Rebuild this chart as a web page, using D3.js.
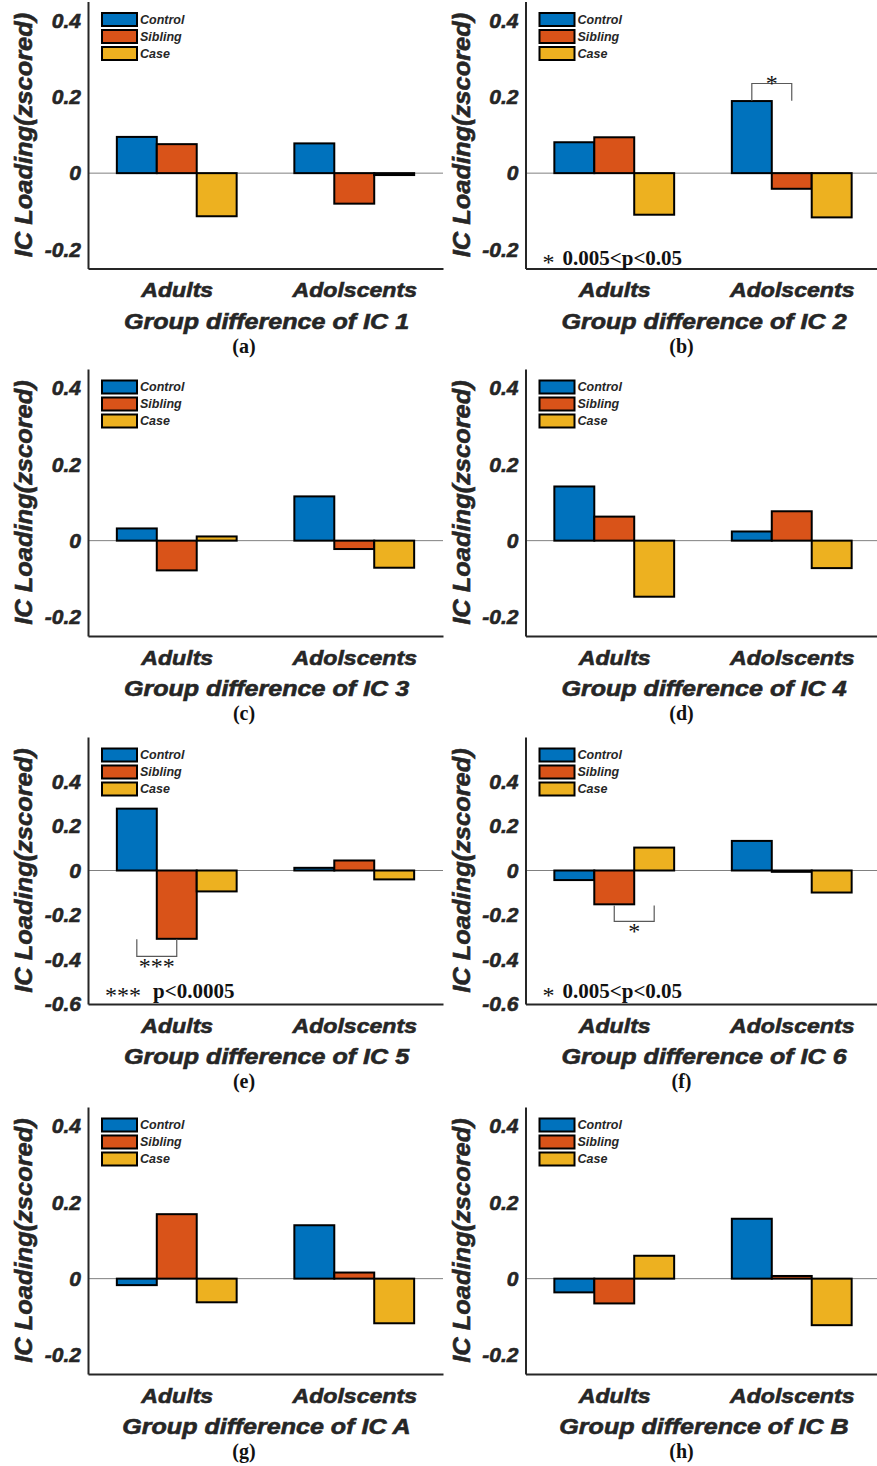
<!DOCTYPE html>
<html>
<head>
<meta charset="utf-8">
<script src="https://cdn.jsdelivr.net/npm/d3@7"></script>
<style>
  body { margin: 0; background: #fff; }
  svg { display: block; }
  .sans { font-family: "Liberation Sans", Arial, sans-serif; font-weight: bold; font-style: italic; fill: #262626; }
  .heavy { stroke: #262626; stroke-width: 0.6px; }
  .serif { font-family: "Liberation Serif", "Times New Roman", serif; fill: #111; }
</style>
</head>
<body>
<div id="chart"></div>
<script>
// ---- data ----
var groups = ["Adults", "Adolscents"];
var series = ["Control", "Sibling", "Case"];
var colors = ["#0072BD", "#D95319", "#EDB120"];
var letters = ["a", "b", "c", "d", "e", "f", "g", "h"];
var titles = ["Group difference of IC 1", "Group difference of IC 2", "Group difference of IC 3",
  "Group difference of IC 4", "Group difference of IC 5", "Group difference of IC 6",
  "Group difference of IC A", "Group difference of IC B"];
// [Adults, Adolscents] per panel
var control = [[0.095, 0.078], [0.081, 0.189], [0.032, 0.116], [0.142, 0.024],
  [0.278, 0.012], [-0.043, 0.133], [-0.017, 0.140], [-0.036, 0.157]];
var sibling = [[0.076, -0.080], [0.094, -0.041], [-0.078, -0.022], [0.063, 0.077],
  [-0.307, 0.045], [-0.152, -0.006], [0.169, 0.016], [-0.065, 0.007]];
var caseVals = [[-0.113, -0.005], [-0.109, -0.116], [0.011, -0.071], [-0.147, -0.072],
  [-0.094, -0.040], [0.103, -0.099], [-0.062, -0.117], [0.060, -0.122]];
var shortDomain = [-0.25, 0.45], tallDomain = [-0.6, 0.6];
var shortTicks = [-0.2, 0, 0.2, 0.4], tallTicks = [-0.6, -0.4, -0.2, 0, 0.2, 0.4];
var tallPanels = ["e", "f"];
// significance brackets: panel, group, bar from, bar to, leg start, leg end, label
var brackets = [
  { panel: "b", group: 1, from: 0, to: 1, y0: 0.19, y1: 0.235, label: "*" },
  { panel: "e", group: 0, from: 0, to: 1, y0: -0.309, y1: -0.386, label: "***" },
  { panel: "f", group: 0, from: 1, to: 2, y0: -0.157, y1: -0.229, label: "*" }
];
var notes = [
  { panel: "b", stars: "*", text: "0.005<p<0.05" },
  { panel: "e", stars: "***", text: "p<0.0005" },
  { panel: "f", stars: "*", text: "0.005<p<0.05" }
];

// ---- layout ----
var W = 877, H = 1466;
var colX = [88, 525.5];
var rowBottom = [268.5, 636, 1004, 1374];
var plotH = 267, plotW = 355, barW = 0.225;

var svg = d3.select("#chart").append("svg")
    .attr("width", W)
    .attr("height", H);
svg.append("rect").attr("width", W).attr("height", H).attr("fill", "#fff");

// stretch text a bit, the original font is wider than Liberation Sans
function widen(sel, k) {
  sel.each(function() {
    var w = this.getComputedTextLength();
    d3.select(this).attr("textLength", w * k).attr("lengthAdjust", "spacingAndGlyphs");
  });
}

letters.forEach(function(id, p) {
  var col = p % 2, row = Math.floor(p / 2);
  var tall = tallPanels.indexOf(id) != -1;
  var g = svg.append("g")
      .attr("transform", "translate(" + colX[col] + "," + (rowBottom[row] - plotH) + ")");

  var x = d3.scaleLinear().domain([0.5, 2.5]).range([0, plotW]);
  var y = d3.scaleLinear().domain(tall ? tallDomain : shortDomain).range([plotH, 0]);

  // zero line
  g.append("line")
      .attr("x1", 0).attr("x2", plotW)
      .attr("y1", y(0)).attr("y2", y(0))
      .attr("stroke", "#808080").attr("stroke-width", 1);

  // bars
  var vals = [control[p], sibling[p], caseVals[p]];
  var bars = [];
  vals.forEach(function(v, s) {
    v.forEach(function(d, gi) { bars.push({ s: s, g: gi, v: d }); });
  });
  g.selectAll("rect.bar").data(bars).enter().append("rect")
      .attr("class", "bar")
      .attr("x", function(d) { return x(d.g + 1 + (d.s - 1) * barW - barW / 2); })
      .attr("width", x(barW) - x(0))
      .attr("y", function(d) { return y(Math.max(0, d.v)); })
      .attr("height", function(d) { return Math.abs(y(d.v) - y(0)); })
      .attr("fill", function(d) { return colors[d.s]; })
      .attr("stroke", "#000").attr("stroke-width", 2);

  // y axis
  var yAxis = g.append("g")
      .call(d3.axisLeft(y).tickValues(tall ? tallTicks : shortTicks).tickSize(0).tickSizeOuter(0)
        .tickPadding(7).tickFormat(function(d) { return String(d); }));
  yAxis.select(".domain").attr("stroke", "#262626").attr("stroke-width", 2);
  yAxis.selectAll("text").attr("class", "sans heavy").style("font-size", "21px").attr("fill", "#262626")
      .attr("font-family", null);

  // x axis
  var xAxis = g.append("g")
      .attr("transform", "translate(0," + plotH + ")")
      .call(d3.axisBottom(x).tickValues([1, 2]).tickSize(0).tickSizeOuter(0)
        .tickPadding(14).tickFormat(function(d) { return groups[d - 1]; }));
  xAxis.select(".domain").attr("stroke", "#262626").attr("stroke-width", 2);
  xAxis.selectAll("text").attr("class", "sans heavy").style("font-size", "21px").attr("fill", "#262626")
      .attr("font-family", null).call(widen, 1.1);

  // axis label and title
  g.append("text").attr("class", "sans heavy")
      .attr("transform", "translate(-56," + (plotH / 2) + ") rotate(-90)")
      .attr("text-anchor", "middle")
      .style("font-size", "24px")
      .text("IC Loading(zscored)")
      .call(widen, 1.06);
  g.append("text").attr("class", "sans heavy")
      .attr("x", 178.5).attr("y", plotH + 60)
      .attr("text-anchor", "middle")
      .style("font-size", "22px")
      .text(titles[p])
      .call(widen, 1.14);
  g.append("text").attr("class", "serif")
      .attr("x", 156).attr("y", plotH + 84)
      .attr("text-anchor", "middle")
      .style("font-size", "20px").style("font-weight", "bold")
      .text("(" + id + ")");

  // legend
  var leg = g.selectAll("g.leg").data(series).enter().append("g")
      .attr("class", "leg")
      .attr("transform", function(d, i) { return "translate(14," + (18 + i * 17) + ")"; });
  leg.append("rect")
      .attr("x", 0).attr("y", -6.5).attr("width", 35).attr("height", 13)
      .attr("fill", function(d, i) { return colors[i]; })
      .attr("stroke", "#000").attr("stroke-width", 2);
  leg.append("text").attr("class", "sans")
      .attr("x", 38).attr("dy", "0.35em")
      .style("font-size", "12.5px").attr("fill", "#000")
      .text(function(d) { return d; });

  // brackets
  brackets.filter(function(b) { return b.panel == id; }).forEach(function(b) {
    var xa = x(b.group + 1 + (b.from - 1) * barW), xb = x(b.group + 1 + (b.to - 1) * barW);
    g.append("path")
        .attr("d", "M" + xa + "," + y(b.y0) + "V" + y(b.y1) + "H" + xb + "V" + y(b.y0))
        .attr("fill", "none").attr("stroke", "#595959").attr("stroke-width", 1.2);
    var up = b.y1 > b.y0;
    g.append("text").attr("class", "serif")
        .attr("x", (xa + xb) / 2)
        .attr("y", y(b.y1) + (up ? 7 : 18))
        .attr("text-anchor", "middle")
        .style("font-size", "24px")
        .text(b.label);
  });

  // significance note
  notes.filter(function(n) { return n.panel == id; }).forEach(function(n) {
    var ny = plotH - (tall ? 6.5 : 3.5);
    var st = g.append("text").attr("class", "serif")
        .attr("x", 17).attr("y", ny + 5)
        .style("font-size", "24px")
        .text(n.stars);
    var sw = st.node().getComputedTextLength();
    g.append("text").attr("class", "serif")
        .attr("x", 17 + sw + (n.stars.length > 1 ? 12 : 8)).attr("y", ny)
        .style("font-size", "21px").style("font-weight", "bold")
        .text(n.text);
  });
});
</script>
</body>
</html>
